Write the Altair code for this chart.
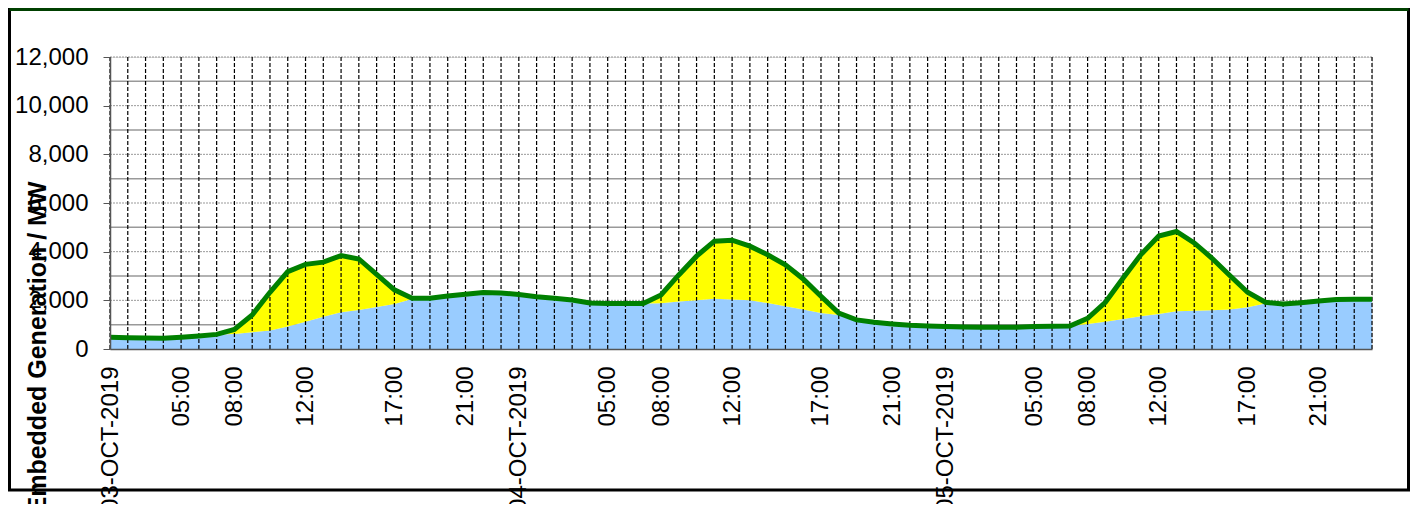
import altair as alt
import pandas as pd

# hourly points, 72 of them (index 0..71)
hours = list(range(72))

# embedded wind (blue, bottom of stack), MW
wind = [480, 466, 450, 440, 480, 535, 600, 620, 690, 760, 920, 1120,
        1330, 1510, 1600, 1730, 1850, 2050, 2085, 2180, 2250, 2320, 2300, 2240,
        2150, 2085, 2015, 1890, 1865, 1865, 1865, 1880, 1950, 2000, 2060, 2030,
        2000, 1890, 1755, 1620, 1480, 1400, 1195, 1100, 1030, 975, 945, 920,
        905, 890, 890, 890, 920, 930, 945, 1030, 1125, 1235, 1345, 1440,
        1550, 1575, 1590, 1620, 1715, 1870, 1850, 1905, 1975, 2030, 2045, 2045]

# embedded solar (yellow, top of stack), MW
solar = [0, 0, 0, 0, 0, 0, 0, 180, 710, 1570, 2260, 2360,
         2240, 2330, 2100, 1340, 580, 35, 0, 0, 0, 0, 0, 0,
         0, 0, 0, 0, 0, 0, 0, 340, 1095, 1815, 2370, 2440,
         2225, 1980, 1705, 1260, 690, 80, 0, 0, 0, 0, 0, 0,
         0, 0, 0, 0, 0, 0, 0, 230, 795, 1685, 2535, 3200,
         3280, 2785, 2140, 1400, 615, 50, 0, 0, 0, 0, 0, 0]

tick_idx = [0, 4, 7, 11, 16, 20, 23, 28, 31, 35, 40, 44, 47, 52, 55, 59, 64, 68]
tick_text = ["03-OCT-2019", "05:00", "08:00", "12:00", "17:00", "21:00",
             "04-OCT-2019", "05:00", "08:00", "12:00", "17:00", "21:00",
             "05-OCT-2019", "05:00", "08:00", "12:00", "17:00", "21:00"]

y_major = [2000, 4000, 6000, 8000, 10000, 12000]
y_minor = [1000, 3000, 5000, 7000, 9000, 11000]
y_ticks = [0, 2000, 4000, 6000, 8000, 10000, 12000]

df = pd.DataFrame({"idx": hours, "wind": wind, "solar": solar})
df["total"] = df["wind"] + df["solar"]

FONT = "Liberation Sans"
W, H = 1262, 292

xscale = alt.Scale(domain=[0, 71], nice=False, zero=False)
yscale = alt.Scale(domain=[0, 12000], nice=False)

label_expr = ("[" + ",".join("'%s'" % t for t in tick_text) + "][indexof(["
              + ",".join(str(v) for v in tick_idx) + "], datum.value)]")

x_axis = alt.Axis(values=tick_idx, labelExpr=label_expr, labelAngle=-90,
                  labelAlign="right", labelBaseline="middle",
                  labelFont=FONT, labelFontSize=24, labelColor="black",
                  labelPadding=17, ticks=False, grid=False,
                  domainColor="#555555", domainWidth=1.5, labelOverlap=False,
                  title=None, zindex=1)

y_axis = alt.Axis(values=y_ticks, format=",d", labelFont=FONT, labelFontSize=24,
                  labelColor="black", labelPadding=15, tickSize=7,
                  tickColor="#555555", domainColor="#555555", domainWidth=1.5,
                  grid=False, title="Embedded Generation / MW",
                  titleFont=FONT, titleFontSize=25, titleFontWeight="bold",
                  titleColor="black", titleAngle=-90, titleAlign="center",
                  titleBaseline="middle", titleX=-73, titleY=290, zindex=1)

frame = alt.Chart(pd.DataFrame({"k": [0]})).mark_rect(
    filled=False, stroke="black", strokeWidth=3
).encode(x=alt.value(-100.5), x2=alt.value(1298.5),
         y=alt.value(-47.5), y2=alt.value(433))

top_edge = alt.Chart(pd.DataFrame({"k": [0]})).mark_rule(
    color="#004000", strokeWidth=3
).encode(x=alt.value(-100.5), x2=alt.value(1298.5), y=alt.value(-47.5))

hmin = alt.Chart(pd.DataFrame({"v": y_minor})).mark_rule(
    color="#999999", strokeWidth=1.5
).encode(y=alt.Y("v:Q", scale=yscale), x=alt.value(0), x2=alt.value(W))

hmaj = alt.Chart(pd.DataFrame({"v": y_major})).mark_rule(
    color="#999999", strokeWidth=1, strokeDash=[2, 1]
).encode(y=alt.Y("v:Q", scale=yscale), x=alt.value(0), x2=alt.value(W))

blue = alt.Chart(df).mark_area(color="#99CCFF", opacity=1).encode(
    x=alt.X("idx:Q", scale=xscale, axis=x_axis),
    y=alt.Y("wind:Q", scale=yscale, axis=y_axis),
)

yellow = alt.Chart(df).mark_area(color="#FFFF00", opacity=1).encode(
    x=alt.X("idx:Q", scale=xscale),
    y=alt.Y("total:Q", scale=yscale),
    y2="wind:Q",
)

vgrid = alt.Chart(df).mark_rule(
    color="black", strokeWidth=1.2, strokeDash=[4, 2]
).encode(x=alt.X("idx:Q", scale=xscale), y=alt.datum(0), y2=alt.datum(12000))

line = alt.Chart(df).mark_line(color="#008000", strokeWidth=5).encode(
    x=alt.X("idx:Q", scale=xscale),
    y=alt.Y("total:Q", scale=yscale),
)

chart = alt.layer(frame, top_edge, hmin, hmaj, blue, yellow, vgrid, line).properties(
    width=W, height=H,
    autosize=alt.AutoSizeParams(type="none"),
    padding={"left": 102, "top": 49, "right": 38, "bottom": 155},
).configure_view(stroke=None).configure(background="white")

chart.save("out.html", embed_options={"renderer": "svg", "actions": False})
